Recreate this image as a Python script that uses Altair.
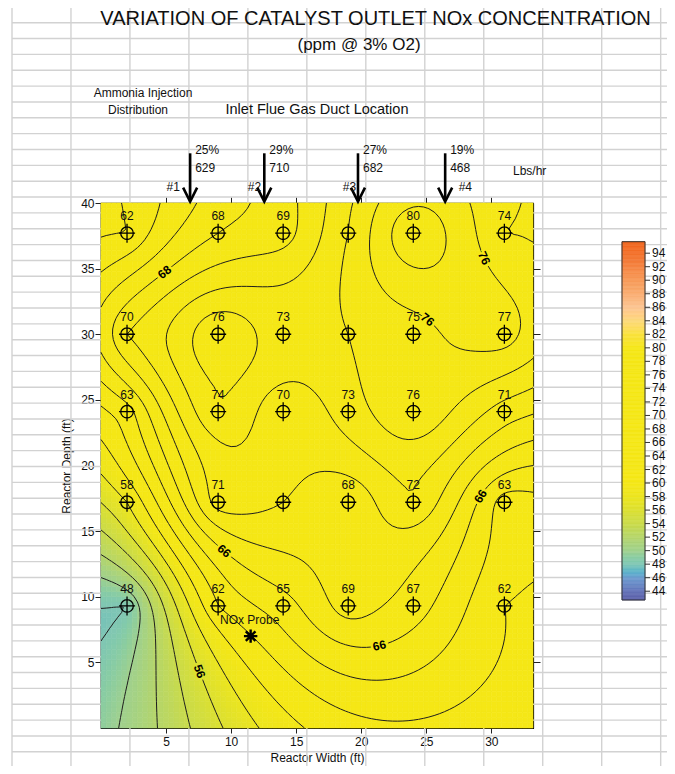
import math
import numpy as np
import pandas as pd
import altair as alt

FONT = "Liberation Sans"

# ---------------- values ----------------
title_text = "VARIATION OF CATALYST OUTLET NOx CONCENTRATION"
subtitle_text = "(ppm @ 3% O2)"
ammonia_1 = "Ammonia Injection"
ammonia_2 = "Distribution"
inlet_text = "Inlet Flue Gas Duct Location"
units_text = "Lbs/hr"

col_x = [2, 9, 14, 19, 24, 31]            # reactor width of sample points (ft)
row_y = [37.7, 30.0, 24.1, 17.2, 9.3]     # reactor depth of sample points (ft)
nox_r1 = [62, 68, 69, None, 80, 74]
nox_r2 = [70, 76, 73, None, 75, 77]
nox_r3 = [63, 74, 70, 73, 76, 71]
nox_r4 = [58, 71, None, 68, 72, 63]
nox_r5 = [48, 62, 65, 69, 67, 62]
# unlabelled sample points: values estimated from the contour lines through them
hidden_x = [19, 19, 14]
hidden_y = [37.7, 30.0, 17.2]
hidden_v = [74, 74, 70]

probe_x = [11.5]
probe_y = [7.0]
probe_lbl = ["NOx Probe"]

lance_x = [6.85, 12.55, 19.75, 26.45]
lance_pct = ["25%", "29%", "27%", "19%"]
lance_lbs = ["629", "710", "682", "468"]
port_x = [5.55, 11.8, 19.1, 28.0]
port_lbl = ["#1", "#2", "#3", "#4"]

contour_levels = list(range(46, 81, 2))
clabel_level = [68, 76, 76, 66, 66, 66, 56]
clabel_hint_x = [3.85, 25.4, 28.9, 21.4, 29.4, 9.15, 7.45]
clabel_hint_y = [36.2, 31.7, 35.8, 5.9, 17.5, 13.3, 4.2]

cbar_ticks = list(range(44, 95, 2))
cbar_lo, cbar_hi = 42.7, 95.7
color_stops = [42.7, 44, 46, 48, 50, 52, 54, 56, 58, 60, 80, 82, 84, 86, 88, 90, 92, 94, 95.7]
color_hex = ["#5b5fa9", "#6472b8", "#6e9bcf", "#80c6b4", "#a0d08e", "#b6d56a", "#cadb4a",
             "#dce030", "#ece51e", "#f5e716", "#f5e716", "#f9e23a", "#fcd978", "#fcc592",
             "#faad72", "#f89a58", "#f58442", "#f3702a", "#f2661e"]

# ---------------- layout ----------------
W, H = 432, 525
X_MAX, Y_MAX = 33.2, 40.0
PX, PY = W / X_MAX, H / Y_MAX
PAD_L, PAD_T = 93, 195
SVG_W, SVG_H = 659, 758
PLOT_LEFT_PAGE, PLOT_TOP_PAGE = 8 + PAD_L, 8 + PAD_T

# spreadsheet background grid (page pixels)
grid_v_page = [12 + 58.97 * k for k in range(12)]
grid_h_page = [22.7 + 15.85 * k for k in range(48)]

# ---------------- derived tables ----------------
rows = []
for yv, row in zip(row_y, [nox_r1, nox_r2, nox_r3, nox_r4, nox_r5]):
    for xv, v in zip(col_x, row):
        rows.append({"x": xv, "y": yv, "v": np.nan if v is None else float(v),
                     "lbl": "" if v is None else str(v)})
samples = pd.DataFrame(rows)
for hx, hy, hv in zip(hidden_x, hidden_y, hidden_v):
    samples.loc[(samples.x == hx) & (samples.y == hy), "v"] = float(hv)
known = samples.dropna(subset=["v"])
XY = known[["x", "y"]].to_numpy(float)
Zk = known["v"].to_numpy(float)
n = len(Zk)

# ordinary kriging with a linear variogram (dual form)
D = np.linalg.norm(XY[:, None, :] - XY[None, :, :], axis=-1)
A = np.zeros((n + 1, n + 1))
A[:n, :n] = D
A[:n, n] = 1.0
A[n, :n] = 1.0
coef = np.linalg.solve(A, np.concatenate([Zk, [0.0]]))


def surface(qx, qy):
    Q = np.stack([qx.ravel(), qy.ravel()], axis=1)
    d = np.linalg.norm(Q[:, None, :] - XY[None, :, :], axis=-1)
    z = d @ coef[:n] + coef[n]
    return z.reshape(qx.shape)


gx = np.linspace(0, X_MAX, 84)
gy = np.linspace(0, Y_MAX, 101)
GX, GY = np.meshgrid(gx, gy)
Z = surface(GX, GY)

cell_v = (Z[:-1, :-1] + Z[1:, :-1] + Z[:-1, 1:] + Z[1:, 1:]) / 4
X0, Y0 = np.meshgrid(gx[:-1], gy[:-1])
X1, Y1 = np.meshgrid(gx[1:], gy[1:])
heat = pd.DataFrame({"x": X0.ravel().round(3), "x2": X1.ravel().round(3),
                     "y": Y0.ravel().round(3), "y2": Y1.ravel().round(3),
                     "v": cell_v.ravel().round(2)})

zmin = np.minimum.reduce([Z[:-1, :-1], Z[1:, :-1], Z[:-1, 1:], Z[1:, 1:]])
zmax = np.maximum.reduce([Z[:-1, :-1], Z[1:, :-1], Z[:-1, 1:], Z[1:, 1:]])


def march(level):
    out = []
    for j, i in np.argwhere((zmin < level) & (zmax >= level)):
        z00, z10, z01, z11 = Z[j, i], Z[j, i + 1], Z[j + 1, i], Z[j + 1, i + 1]
        x0, x1, y0, y1 = gx[i], gx[i + 1], gy[j], gy[j + 1]

        def cut(za, zb, ax_, ay_, bx_, by_):
            t = (level - za) / (zb - za)
            return (ax_ + t * (bx_ - ax_), ay_ + t * (by_ - ay_))

        s00, s10, s01, s11 = z00 >= level, z10 >= level, z01 >= level, z11 >= level
        e = {}
        if s00 != s10:
            e["b"] = cut(z00, z10, x0, y0, x1, y0)
        if s10 != s11:
            e["r"] = cut(z10, z11, x1, y0, x1, y1)
        if s01 != s11:
            e["t"] = cut(z01, z11, x0, y1, x1, y1)
        if s00 != s01:
            e["l"] = cut(z00, z01, x0, y0, x0, y1)
        if len(e) == 2:
            pairs = [tuple(e.keys())]
        elif len(e) == 4:
            c = (z00 + z10 + z01 + z11) / 4
            pairs = [("b", "r"), ("t", "l")] if (c >= level) == s00 else [("l", "b"), ("r", "t")]
        else:
            pairs = []
        for a, b in pairs:
            out.append((e[a][0], e[a][1], e[b][0], e[b][1], level))
    return out


segs = []
for L in contour_levels:
    segs.extend(march(L))
seg = pd.DataFrame(segs, columns=["x", "y", "x2", "y2", "level"]).round(3)

lab_rows = []
for L, hx, hy in zip(clabel_level, clabel_hint_x, clabel_hint_y):
    s = seg[seg.level == L]
    if s.empty:
        continue
    mx = (s.x + s.x2) / 2
    my = (s.y + s.y2) / 2
    d = ((mx - hx) * PX) ** 2 + ((my - hy) * PY) ** 2
    k = d.idxmin()
    r = s.loc[k]
    ang = math.degrees(math.atan2(-(r.y2 - r.y) * PY, (r.x2 - r.x) * PX))
    if ang > 90:
        ang -= 180
    if ang <= -90:
        ang += 180
    lab_rows.append({"x": mx[k], "y": my[k], "lbl": str(L), "level": L, "ang": ang % 360})
clabels = pd.DataFrame(lab_rows)

labelled = samples[samples.lbl != ""]
probe = pd.DataFrame({"x": probe_x, "y": probe_y, "lbl": probe_lbl})
lances = pd.DataFrame({"x": lance_x, "pct": lance_pct, "lbs": lance_lbs})
ports = pd.DataFrame({"x": port_x, "lbl": port_lbl})

# colour bar drawn in plot coordinates
CB_TOP_PAGE, CB_BOT_PAGE = 241.7, 600.0


def cb_y(v):
    rel = (CB_TOP_PAGE - PLOT_TOP_PAGE) + (cbar_hi - v) / (cbar_hi - cbar_lo) * (CB_BOT_PAGE - CB_TOP_PAGE)
    return Y_MAX - rel / PY


cb_steps = np.arange(cbar_lo, cbar_hi, 0.2)
cbar = pd.DataFrame({"y": [cb_y(v) for v in cb_steps],
                     "y2": [cb_y(min(v + 0.2, cbar_hi)) for v in cb_steps],
                     "v": cb_steps + 0.1})
cbar_frame = pd.DataFrame({"y": [cb_y(cbar_lo)], "y2": [cb_y(cbar_hi)]})
cbar_tk = pd.DataFrame({"y": [cb_y(t) for t in cbar_ticks], "lbl": [str(t) for t in cbar_ticks]})

grid_v = pd.DataFrame({"x": [(p - PLOT_LEFT_PAGE) / PX for p in grid_v_page]})
grid_h = pd.DataFrame({"y": [Y_MAX - (p - PLOT_TOP_PAGE) / PY for p in grid_h_page]})

# ---------------- chart ----------------
xs = alt.Scale(domain=[0, X_MAX], nice=False, zero=False)
ys = alt.Scale(domain=[0, Y_MAX], nice=False, zero=False)
cs = alt.Scale(type="linear", domain=color_stops, range=color_hex, clamp=True)


def X(f="x", axis=None):
    return alt.X(f, type="quantitative", scale=xs, axis=axis)


def Y(f="y", axis=None):
    return alt.Y(f, type="quantitative", scale=ys, axis=axis)


ax_bottom = alt.Axis(orient="bottom", values=[5, 10, 15, 20, 25, 30], title="Reactor Width (ft)",
                     tickSize=5, labelPadding=3, titlePadding=5, grid=False)
ax_left = alt.Axis(orient="left", values=[5, 10, 15, 20, 25, 30, 35, 40], title="Reactor Depth (ft)",
                   tickSize=6, labelPadding=1, titlePadding=7, grid=False)
ax_top = alt.Axis(orient="top", values=[5, 10, 15, 20, 25, 30], labels=False, title=None,
                  tickSize=6, grid=False)
ax_right = alt.Axis(orient="right", values=[5, 10, 15, 20, 25, 30, 35], labels=False, title=None,
                    tickSize=7, grid=False)

grid_v_layer = alt.Chart(grid_v).mark_rule(color="#d2d2d2", strokeWidth=1.4).encode(
    x=X(), y=alt.value(-196), y2=alt.value(571))
grid_h_layer = alt.Chart(grid_h).mark_rule(color="#d2d2d2", strokeWidth=1.4).encode(
    y=Y(), x=alt.value(-89), x2=alt.value(574))

heat_layer = alt.Chart(heat).mark_rect(strokeWidth=0.6).encode(
    x=X("x", ax_bottom), x2="x2", y=Y("y", ax_left), y2="y2",
    color=alt.Color("v:Q", scale=cs, legend=None),
    stroke=alt.Stroke("v:Q", scale=cs, legend=None))

contour_layer = alt.Chart(seg).mark_rule(color="#1e1e1e", strokeWidth=1).encode(
    x=X(), y=Y(), x2="x2", y2="y2")

clabel_halo = alt.Chart(clabels).mark_text(fontSize=12, fontWeight="bold", strokeWidth=5,
                                           baseline="middle").encode(
    x=X(), y=Y(), text="lbl:N", angle=alt.Angle("ang:Q", scale=None),
    stroke=alt.Stroke("level:Q", scale=cs, legend=None))
clabel_text = alt.Chart(clabels).mark_text(fontSize=12, fontWeight="bold", color="#000",
                                           baseline="middle").encode(
    x=X(), y=Y(), text="lbl:N", angle=alt.Angle("ang:Q", scale=None))

crosshair = ("M0.9,0A0.9,0.9,0,1,1,-0.9,0A0.9,0.9,0,1,1,0.9,0Z"
             "M-1.15,0L1.15,0M0,-1.35L0,1.35")
marker_layer = alt.Chart(samples).mark_point(shape=crosshair, size=196, filled=False,
                                             color="#000", strokeWidth=1.3, opacity=1).encode(
    x=X("x", ax_top), y=Y("y", ax_right))
value_labels = alt.Chart(labelled).mark_text(fontSize=12, color="#111", dy=-17,
                                             baseline="middle").encode(
    x=X(), y=Y(), text="lbl:N")

star = "M-1,0L1,0M0,-1L0,1M-0.72,-0.72L0.72,0.72M-0.72,0.72L0.72,-0.72"
probe_mark = alt.Chart(probe).mark_point(shape=star, size=180, filled=False, color="#000",
                                         strokeWidth=2.4, opacity=1).encode(x=X(), y=Y())
probe_text = alt.Chart(probe).mark_text(fontSize=12, color="#111", dy=-16, dx=-1,
                                        baseline="middle").encode(x=X(), y=Y(), text="lbl:N")

arrow_shaft = alt.Chart(lances).mark_rule(color="#000", strokeWidth=2.6).encode(
    x=X(), y=alt.value(-49.7), y2=alt.value(-4))
arrow_head = alt.Chart(lances).mark_point(shape="M-1,-1L0,1L1,-1", size=196, filled=False,
                                          color="#000", strokeWidth=2.6, opacity=1).encode(
    x=X(), y=alt.value(-8.3))
pct_text = alt.Chart(lances).mark_text(fontSize=12, color="#111", align="left", dx=5,
                                       baseline="middle").encode(
    x=X(), y=alt.value(-53), text="pct:N")
lbs_text = alt.Chart(lances).mark_text(fontSize=12, color="#111", align="left", dx=5,
                                       baseline="middle").encode(
    x=X(), y=alt.value(-35), text="lbs:N")
port_text = alt.Chart(ports).mark_text(fontSize=12, color="#111", baseline="middle").encode(
    x=X(), y=alt.value(-16.5), text="lbl:N")


def note(text, x, y, size, align="center"):
    return alt.Chart(pd.DataFrame({"t": [text]})).mark_text(
        fontSize=size, color="#111", align=align, baseline="middle").encode(
        x=alt.value(x), y=alt.value(y), text="t:N")


texts = [
    note(title_text, 274.5, -184, 20),
    note(subtitle_text, 258, -158, 17),
    note(ammonia_1, 42, -110, 12),
    note(ammonia_2, 37, -93, 12),
    note(inlet_text, 216, -93, 14.5),
    note(units_text, 412, -32.5, 12, align="left"),
]

cbar_layer = alt.Chart(cbar).mark_rect(strokeWidth=0.6).encode(
    x=alt.value(521), x2=alt.value(544), y=Y(), y2="y2",
    color=alt.Color("v:Q", scale=cs, legend=None),
    stroke=alt.Stroke("v:Q", scale=cs, legend=None))
cbar_border = alt.Chart(cbar_frame).mark_rect(fillOpacity=0, stroke="#333", strokeWidth=1).encode(
    x=alt.value(521), x2=alt.value(544), y=Y(), y2="y2")
cbar_ticks_layer = alt.Chart(cbar_tk).mark_rule(color="#333", strokeWidth=1).encode(
    x=alt.value(544), x2=alt.value(549), y=Y())
cbar_labels = alt.Chart(cbar_tk).mark_text(fontSize=12, color="#111", align="left",
                                           baseline="middle").encode(
    x=alt.value(551), y=Y(), text="lbl:N")

chart = alt.layer(
    grid_v_layer, grid_h_layer, heat_layer, contour_layer, clabel_halo, clabel_text,
    marker_layer, value_labels, probe_mark, probe_text,
    arrow_shaft, arrow_head, pct_text, lbs_text, port_text,
    cbar_layer, cbar_border, cbar_ticks_layer, cbar_labels, *texts
).resolve_axis(x="independent", y="independent").properties(
    width=W, height=H,
    autosize=alt.AutoSizeParams(type="none"),
    padding={"left": PAD_L, "top": PAD_T, "right": SVG_W - PAD_L - W, "bottom": SVG_H - PAD_T - H},
    background="white",
).configure_view(stroke="#000", strokeWidth=1.2).configure_axis(
    labelFont=FONT, titleFont=FONT, labelFontSize=12, titleFontSize=12,
    titleFontWeight="normal", labelColor="#111", titleColor="#111",
    tickColor="#222", domainColor="#000", domainWidth=1.2, tickWidth=1,
).configure_text(font=FONT)

chart.save("out.html", embed_options={"renderer": "svg", "actions": False})
